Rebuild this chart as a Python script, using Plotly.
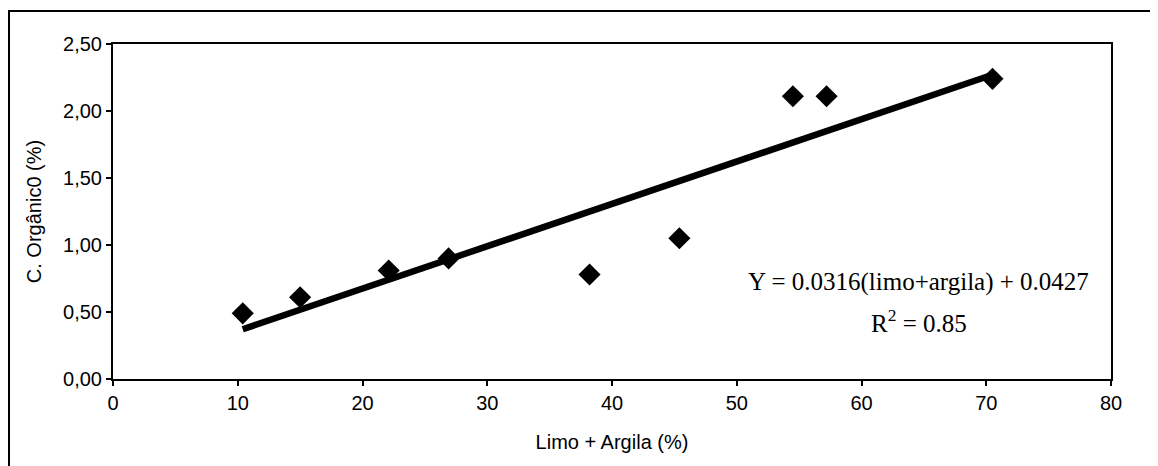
import plotly.graph_objects as go

# Data
limo_argila = [10.4, 15.0, 22.1, 26.9, 38.2, 45.4, 54.5, 57.2, 70.5]
c_organico = [0.49, 0.61, 0.81, 0.90, 0.78, 1.05, 2.11, 2.11, 2.24]
slope = 0.0316
intercept = 0.0427
eq_text = "Y = 0.0316(limo+argila) + 0.0427"
r2_text = "R<sup>2</sup> = 0.85"
x_ticks = [0, 10, 20, 30, 40, 50, 60, 70, 80]
y_ticks = [0.0, 0.5, 1.0, 1.5, 2.0, 2.5]

x_line = [min(limo_argila), max(limo_argila)]
y_line = [slope * x + intercept for x in x_line]

# page body has an 8px default margin; figure is sized to fit the window
OFF = 8
W, H = 1158 - OFF, 466 - OFF
ml, mr, mt, mb = 113 - OFF, 47, 44 - OFF, 87
pw, ph = W - ml - mr, H - mt - mb

def px_to_paper_x(px):
    return (px - ml) / pw

def py_to_paper_y(py):
    return (H - mb - py) / ph

fig = go.Figure()
fig.add_trace(go.Scatter(x=x_line, y=y_line, mode="lines",
                         line=dict(color="black", width=6.5), showlegend=False,
                         hoverinfo="skip"))
fig.add_trace(go.Scatter(x=limo_argila, y=c_organico, mode="markers",
                         marker=dict(symbol="diamond", size=17, color="black"),
                         showlegend=False))

serif = dict(family="Liberation Serif, Times New Roman, serif", size=25, color="black")
fig.add_annotation(x=64.6, y=0.725, xref="x", yref="y", text=eq_text, showarrow=False, font=serif)
fig.add_annotation(x=64.6, y=0.43, xref="x", yref="y", text=r2_text, showarrow=False, font=serif)

# outer frame
fig.add_shape(type="rect", xref="paper", yref="paper",
              x0=px_to_paper_x(1), x1=px_to_paper_x(W + 5),
              y0=py_to_paper_y(H + 5), y1=py_to_paper_y(3),
              line=dict(color="black", width=2), layer="below")

axis_font = dict(family="Liberation Sans, Arial, sans-serif", size=20, color="black")
fig.update_layout(
    width=W, height=H,
    margin=dict(l=ml, r=mr, t=mt, b=mb),
    paper_bgcolor="white", plot_bgcolor="white",
    separators=",.",
    font=axis_font,
    xaxis=dict(range=[0, 80], tickvals=x_ticks, ticks="outside", ticklen=5, tickwidth=1.5,
               tickcolor="black", showgrid=False, zeroline=False, showline=True,
               linecolor="black", linewidth=2, mirror=True,
               tickfont=dict(size=20),
               title=dict(text="Limo + Argila (%)", font=dict(size=20), standoff=22)),
    yaxis=dict(range=[0, 2.5], tickvals=y_ticks, tickformat=".2f", ticks="outside", ticklen=5,
               tickwidth=1.5, tickcolor="black", showgrid=False, zeroline=False, showline=True,
               linecolor="black", linewidth=2, mirror=True,
               tickfont=dict(size=20),
               title=dict(text="C. Orgânic0 (%)", font=dict(size=20), standoff=16)),
)

fig.write_html("out.html")
